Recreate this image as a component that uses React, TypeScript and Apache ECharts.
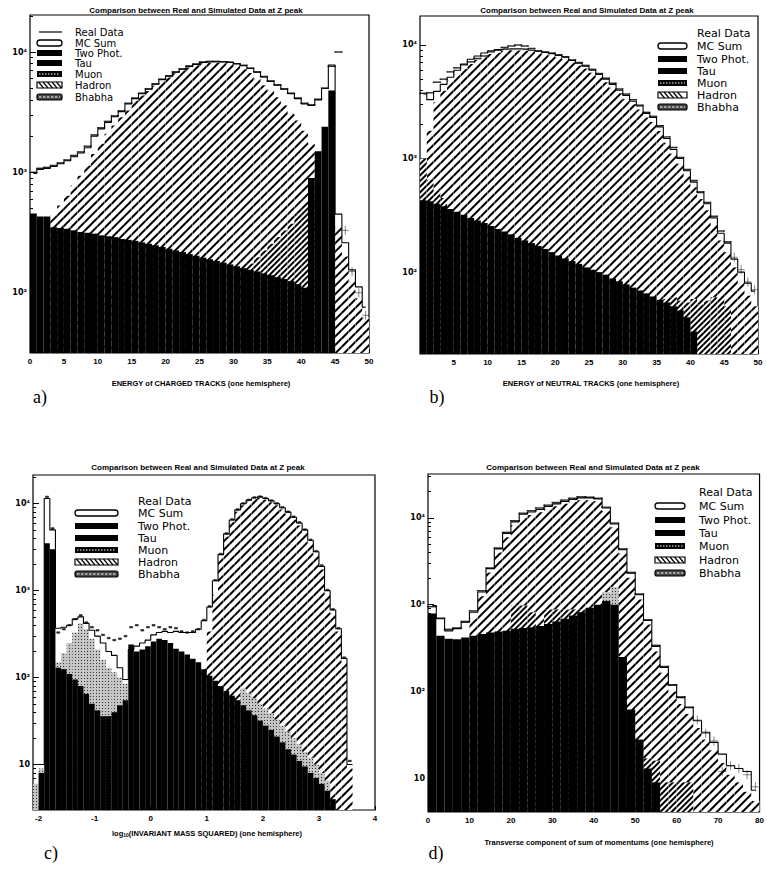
import React, { useEffect, useRef } from "react";
import * as echarts from "echarts";

const TITLE = "Comparison between Real and Simulated Data at Z peak";
const LEGEND_NAMES = ["Real Data", "MC Sum", "Two Phot.", "Tau", "Muon", "Hadron", "Bhabha"];

// ---------- panel a : energy of charged tracks (bins of 1, 0..50) ----------
const aXTicks = [0, 5, 10, 15, 20, 25, 30, 35, 40, 45, 50];
const aMcSum = [980, 1060, 1080, 1120, 1180, 1250, 1350, 1450, 1600, 2000, 2300, 2600, 2900, 3200, 3700, 4100, 4500, 4900, 5400, 5900, 6300, 6800, 7200, 7600, 7900, 8200, 8300, 8300, 8300, 8200, 8000, 7700, 7300, 6800, 6200, 5700, 5300, 4900, 4500, 4100, 3700, 3600, 4000, 5000, 7800, 450, 260, 155, 112, 76];
const aHadronTop = [null, null, null, 440, 530, 640, 780, 940, 1140, 1420, 1730, 2090, 2450, 2870, 3260, 3950, 4350, 4750, 5250, 5750, 6150, 6650, 7050, 7450, 7750, 8050, 8150, 8150, 8150, 8000, 7700, 7200, 6700, 6000, 5300, 4800, 4200, 3600, 3070, 2700, 2220, 1730, null, null, null, 350, 200, 125, 90, 62];
const aBhabhaTop = [null, null, null, null, null, null, null, null, null, null, null, null, null, null, null, null, null, null, null, null, null, null, null, null, null, null, null, null, null, null, null, null, 175, 197, 225, 255, 290, 330, 375, 455, 515, 590, null, null, null, null, null, null, null, null];
const aBlackTop = [455, 430, 430, 350, 345, 340, 330, 320, 315, 310, 300, 295, 290, 280, 275, 270, 262, 255, 248, 240, 232, 225, 218, 210, 203, 196, 190, 184, 178, 172, 166, 160, 155, 150, 145, 140, 135, 130, 125, 118, 110, 900, 1500, 2400, 4800, null, null, null, null, null];
const aData = [1000, 1080, 1100, 1140, 1200, 1270, 1380, 1480, 1650, 2050, 2350, 2650, 2950, 3250, 3750, 4150, 4550, 4950, 5450, 5950, 6350, 6850, 7250, 7650, 7950, 8250, 8350, 8350, 8300, 8200, 8000, 7750, 7350, 6850, 6250, 5750, 5350, 4950, 4550, 4150, 3750, 3650, 4050, 5000, 7600, 10000, 330, 150, 100, 65];

// ---------- panel b : energy of neutral tracks (bins of 1, 0..50) ----------
const bXTicks = [5, 10, 15, 20, 25, 30, 35, 40, 45, 50];
const bMcSum = [3700, 3300, 3900, 4500, 5200, 6000, 6800, 7500, 8000, 8500, 8900, 9100, 9200, 9250, 9250, 9200, 9000, 8800, 8600, 8400, 8100, 7800, 7300, 6900, 6500, 6000, 5500, 5000, 4500, 4000, 3600, 3200, 2900, 2500, 2300, 1900, 1500, 1200, 1000, 780, 620, 500, 400, 300, 220, 180, 130, 100, 80, 68];
const bHadronTop = [null, 1760, 3130, 3960, 4850, 5560, 6150, 6800, 7370, 7900, 8330, 8600, 8900, 9000, 8950, 8900, 8700, 8500, 8300, 8100, 7800, 7500, 7000, 6600, 6200, 5700, 5200, 4700, 4200, 3750, 3350, 3000, 2700, 2300, 2100, 1750, 1380, 1100, 900, 700, 560, 440, 350, 260, 190, 150, 110, 80, 62, 50];
const bBhabhaTop = [1000, 650, 520, 450, null, null, null, null, null, null, null, null, null, null, null, null, null, null, null, null, null, null, null, null, null, null, null, null, null, null, null, null, null, null, null, null, 58, 60, 56, 54, 58, 52, 56, 60, 58, 50, null, null, null, null];
const bBlackTop = [430, 420, 400, 380, 360, 340, 320, 300, 285, 270, 255, 240, 228, 215, 200, 190, 180, 170, 160, 150, 140, 132, 125, 118, 110, 105, 100, 95, 88, 83, 78, 73, 69, 65, 61, 57, 54, 50, 46, 40, 30, null, null, null, null, null, null, null, null, null];
const bData = [3750, 3800, 4700, 5000, 5800, 6300, 6700, 7100, 7600, 8000, 8700, 9000, 9500, 9800, 10000, 9800, 9300, 8900, 8700, 8500, 8200, 7900, 7400, 7000, 6600, 6100, 5600, 5100, 4600, 4100, 3700, 3300, 2950, 2550, 2350, 1950, 1550, 1250, 1020, 800, 640, 510, 410, 310, 230, 185, 135, 105, 82, 70];

// ---------- panel c : log10(invariant mass squared) (bins of 0.1, -2.1..4.0) ----------
const cXTicks = [-2, -1, 0, 1, 2, 3, 4];
const cMcSum = [null, 10, 11500, 5000, 370, 380, 400, 470, 500, 420, 350, 300, 250, 200, 180, 130, 95, 210, 230, 250, 270, 310, 330, 340, 330, 340, 330, 330, 330, 360, 450, 650, 1300, 2600, 4500, 6500, 8500, 10000, 11000, 11700, 12000, 11500, 10800, 10000, 9000, 8000, 7000, 6000, 5000, 3800, 2800, 1900, 1000, 600, 365, 166, 10, null, null, null, null];
const cHadronTop = [null, null, null, null, null, null, null, null, null, null, null, null, null, null, null, null, null, null, null, null, null, null, null, null, null, null, null, null, null, null, 130, 340, 900, 2400, 4200, 6200, 8100, 9600, 10600, 11300, 11600, 11100, 10400, 9600, 8600, 7600, 6600, 5600, 4700, 3550, 2600, 1750, 920, 550, 340, 150, 9, null, null, null, null];
const cMuonTop = [6, 9, null, null, 150, 190, 250, 330, 420, 360, 280, 210, 160, 130, 115, 100, 85, null, null, null, null, null, null, null, null, null, null, null, null, null, null, null, null, null, null, null, null, 75, 66, 58, 50, 44, 39, 33, 28, 24, 20, 17, 14, 12, 10, 8, 6.5, null, null, null, null, null, null, null, null];
const cBlackTop = [null, 8, 3500, 3000, 130, 125, 110, 95, 80, 65, 50, 42, 36, 36, 40, 48, 55, 240, 200, 210, 230, 260, 280, 270, 250, 215, 200, 185, 165, 150, 125, 105, 92, 80, 70, 62, 55, 48, 42, 37, 32, 28, 25, 21, 18, 15, 13, 11, 9.5, 8, 7, 6, 5, 4, null, null, null, null, null, null, null];
const cData = [null, null, 12000, 5200, 330, 360, 400, 470, 520, 430, 380, 350, 310, 285, 270, 280, 300, 380, 400, 350, 380, 400, 380, 360, 380, 370, 340, 330, 340, 360, 460, 660, 1320, 2650, 4550, 6600, 8600, 10100, 11100, 11800, 12100, 11600, 10900, 10100, 9100, 8100, 7100, 6100, 5050, 3850, 2850, 1950, 1020, 610, 370, 170, 11, null, null, null, null];

// ---------- panel d : transverse momentum sum (bins of 2, 0..80) ----------
const dXTicks = [0, 10, 20, 30, 40, 50, 60, 70, 80];
const dMcSum = [980, 690, 500, 530, 630, 820, 1400, 2600, 4400, 6600, 9000, 11000, 11700, 12500, 13500, 14500, 15500, 16300, 17000, 17000, 16500, 13000, 8500, 4300, 2300, 1300, 660, 330, 190, 118, 85, 65, 46, 34, 26, 19, 14, 13, 12, 7.3];
const dHadronTop = [null, null, null, null, null, 700, 1250, 2350, 4000, 6000, 8200, 10000, 10800, 11600, 12600, 13600, 14500, 15300, 16000, 16000, 15500, 12000, 7800, 3900, 2050, 1150, 590, 290, 165, 100, 72, 55, 38, 28, 21, 15, 11, 9, 7, 5.5];
const dBhabhaTop = [null, null, null, null, null, null, null, null, null, null, 980, 980, 820, null, 880, 880, 880, 880, 880, null, null, null, null, null, null, null, 17, 16, 9, 9, 9, 9, null, null, null, null, null, null, null, null];
const dMuonTop = [null, null, null, null, null, null, null, null, null, null, null, null, null, null, null, null, null, null, null, null, null, 1400, 1600, null, null, null, null, null, null, null, null, null, null, null, null, null, null, null, null, null];
const dBlackTop = [790, 440, 405, 400, 420, 440, 460, 480, 490, 500, 530, 540, 550, 570, 600, 640, 690, 750, 820, 920, 1000, 1100, 1000, 250, 62, 28, 13, 9, null, null, null, null, null, null, null, null, null, null, null, null];
const dData = [950, 700, 520, 540, 640, 850, 1450, 2650, 4500, 6800, 9300, 11300, 12100, 13000, 14000, 15000, 16000, 16800, 17500, 17300, 16800, 13300, 8700, 4400, 2350, 1330, 670, 340, 195, 120, 87, 66, 47, 33, 27, 12, 14, 13, 11, 8];

const Y_LABELS: Record<number, string> = { 1: "10", 2: "10²", 3: "10³", 4: "10⁴" };

const HATCH = { symbol: "rect", symbolSize: 1, dashArrayX: [1, 0], dashArrayY: [2, 3.5], rotation: -Math.PI / 4, color: "#000" };
const DENSE = { symbol: "rect", symbolSize: 1, dashArrayX: [1, 0], dashArrayY: [2, 1.4], rotation: -Math.PI / 4, color: "#000" };
const STIPPLE = { symbol: "rect", symbolSize: 1, dashArrayX: [1, 1.5], dashArrayY: [1, 1.5], rotation: 0, color: "#333" };
const CROSS = "path://M0,10L20,10M10,0L10,20";

type Panel = {
  grid: { left: number; top: number; width: number; height: number };
  xMin: number; xMax: number; xTicks: number[];
  yMin: number; yMax: number;
  mc: (number | null)[]; hadron: (number | null)[]; dense: (number | null)[] | null;
  muon: (number | null)[] | null; black: (number | null)[]; data: (number | null)[];
  crossBelow: number; dashW: number; dashH: number;
  title: [number, number]; xName: string; xNamePos: [number, number];
  letter: string; letterPos: [number, number];
  legend: { textX: number; rows: number[]; swX: number; swW: number; realLine: boolean; fontSize: number };
};

const PANELS: Panel[] = [
  {
    grid: { left: 30, top: 15, width: 339, height: 338 }, xMin: 0, xMax: 50, xTicks: aXTicks,
    yMin: 31.6, yMax: 20300, mc: aMcSum, hadron: aHadronTop, dense: aBhabhaTop, muon: null, black: aBlackTop, data: aData,
    crossBelow: 400, dashW: 6.8, dashH: 1.2, title: [196, 10], xName: "ENERGY of CHARGED TRACKS (one hemisphere)", xNamePos: [201, 383],
    letter: "a)", letterPos: [40, 397], legend: { textX: 75, rows: [32, 43, 53, 63, 74, 85, 97], swX: 37, swW: 25, realLine: true, fontSize: 10 },
  },
  {
    grid: { left: 420, top: 16, width: 338, height: 338 }, xMin: 0, xMax: 50, xTicks: bXTicks,
    yMin: 19, yMax: 18000, mc: bMcSum, hadron: bHadronTop, dense: bBhabhaTop, muon: null, black: bBlackTop, data: bData,
    crossBelow: 150, dashW: 6.8, dashH: 1.2, title: [587, 10], xName: "ENERGY of NEUTRAL TRACKS (one hemisphere)", xNamePos: [591, 383],
    letter: "b)", letterPos: [437, 397], legend: { textX: 697, rows: [33, 46, 59, 71, 83, 95, 107], swX: 658, swW: 29, realLine: false, fontSize: 11 },
  },
  {
    grid: { left: 33, top: 475, width: 342, height: 335 }, xMin: -2.1, xMax: 4.0, xTicks: cXTicks,
    yMin: 3, yMax: 21400, mc: cMcSum, hadron: cHadronTop, dense: null, muon: cMuonTop, black: cBlackTop, data: cData,
    crossBelow: 0, dashW: 3, dashH: 1.5, title: [198, 467], xName: "log{s|10}(INVARIANT MASS SQUARED) (one hemisphere)", xNamePos: [207, 833],
    letter: "c)", letterPos: [51, 853], legend: { textX: 138, rows: [501, 513, 526, 538, 550, 562, 574], swX: 75, swW: 43, realLine: false, fontSize: 11 },
  },
  {
    grid: { left: 428, top: 474, width: 337, height: 338 }, xMin: 0, xMax: 80, xTicks: dXTicks,
    yMin: 4.1, yMax: 32000, mc: dMcSum, hadron: dHadronTop, dense: dBhabhaTop, muon: dMuonTop, black: dBlackTop, data: dData,
    crossBelow: 60, dashW: 8.4, dashH: 1.2, title: [593, 467], xName: "Transverse component of sum of momentums (one hemisphere)", xNamePos: [599, 842],
    letter: "d)", letterPos: [436, 853], legend: { textX: 699, rows: [492, 506, 520, 533, 546, 560, 573], swX: 655, swW: 30, realLine: false, fontSize: 11 },
  },
];

function minorTicks(min: number, max: number): number[] {
  const out: number[] = [];
  for (let e = Math.floor(Math.log10(min)); e <= Math.ceil(Math.log10(max)); e++) {
    for (let m = 2; m <= 9; m++) {
      const v = m * Math.pow(10, e);
      if (v > min && v < max) out.push(v);
    }
  }
  return out;
}
function majorTicks(min: number, max: number): number[] {
  const out: number[] = [];
  for (let e = Math.ceil(Math.log10(min)); e <= Math.floor(Math.log10(max)); e++) out.push(Math.pow(10, e));
  return out;
}

const clean = (arr: (number | null)[]) => arr.map((v) => (v == null ? "-" : v));

function buildOption() {
  const grid: any[] = [];
  const xAxis: any[] = [];
  const yAxis: any[] = [];
  const series: any[] = [];
  const graphic: any[] = [];
  const FONT = "Liberation Sans";
  const noLine = { show: false, onZero: false };

  PANELS.forEach((p, i) => {
    grid.push({ ...p.grid, show: true, borderColor: "#000", borderWidth: 1.2, backgroundColor: "transparent" });
    const cats = p.mc.map((_, k) => String(k));
    xAxis.push({ type: "category", gridIndex: i, data: cats, show: false, position: "top", boundaryGap: true, axisLine: noLine });
    xAxis.push({
      type: "value", gridIndex: i, min: p.xMin, max: p.xMax, position: "bottom",
      axisLine: noLine, splitLine: { show: false },
      axisTick: { show: true, inside: true, length: 4, customValues: p.xTicks, lineStyle: { color: "#000" } },
      axisLabel: { customValues: p.xTicks, color: "#000", fontSize: 8, fontWeight: "bold", fontFamily: FONT, margin: 4 },
    });
    const maj = majorTicks(p.yMin, p.yMax);
    yAxis.push({
      type: "log", gridIndex: i, min: p.yMin, max: p.yMax, position: "left",
      axisLine: noLine, splitLine: { show: false }, minorTick: { show: false },
      axisTick: { show: true, inside: true, length: 6, customValues: maj, lineStyle: { color: "#000" } },
      axisLabel: {
        customValues: maj, color: "#000", fontSize: 8, fontWeight: "bold", fontFamily: "DejaVu Sans", margin: 3,
        formatter: (v: number) => Y_LABELS[Math.round(Math.log10(v))] || "",
      },
    });
    yAxis.push({
      type: "log", gridIndex: i, min: p.yMin, max: p.yMax, position: "left",
      axisLine: noLine, splitLine: { show: false }, axisLabel: { show: false },
      axisTick: { show: true, inside: true, length: 3, customValues: minorTicks(p.yMin, p.yMax), lineStyle: { color: "#000" } },
    });

    const ax = { xAxisIndex: 2 * i, yAxisIndex: 2 * i };
    const bar = (name: string, data: (number | null)[], itemStyle: any) => ({
      type: "bar", name, ...ax, data: clean(data), barWidth: "100%", barGap: "-100%", clip: true, silent: true, itemStyle,
    });
    series.push(bar("Hadron", p.hadron, { color: "#fff", decal: HATCH }));
    if (p.dense) series.push(bar("Bhabha", p.dense, { color: "#fff", decal: DENSE }));
    if (p.muon) series.push(bar("Muon", p.muon, { color: "#c4c4c4", decal: STIPPLE }));
    series.push(bar("Two Phot.", p.black, { color: "#000" }));
    series.push({
      type: "line", name: "MC Sum", ...ax, data: clean(p.mc), step: "middle", symbol: "none", clip: true, silent: true,
      connectNulls: false, lineStyle: { color: "#000", width: 1.1 }, z: 4,
    });
    const cb = p.crossBelow;
    series.push({
      type: "scatter", name: "Real Data", ...ax, clip: true, silent: true, z: 5,
      data: p.data.map((v, k) => (v == null ? [k, "-"] : [k, v])),
      symbol: (val: any) => (val[1] < cb ? CROSS : "rect"),
      symbolSize: (val: any) => (val[1] < cb ? [p.dashW, 9] : [p.dashW, p.dashH]),
      itemStyle: { color: "#000", borderColor: "#000", borderWidth: 0.6 },
    });

    // texts
    graphic.push({
      type: "text", x: p.title[0], y: p.title[1], silent: true,
      style: { text: TITLE, fill: "#000", fontSize: 8, fontWeight: "bold", fontFamily: FONT, align: "center", verticalAlign: "middle", textAlign: "center", textVerticalAlign: "middle" },
    });
    graphic.push({
      type: "text", x: p.xNamePos[0], y: p.xNamePos[1], silent: true,
      style: {
        text: p.xName, fill: "#000", fontSize: 7.5, fontWeight: "bold", fontFamily: FONT, align: "center", verticalAlign: "middle", textAlign: "center", textVerticalAlign: "middle",
        rich: { s: { fontSize: 5, fontWeight: "bold", fontFamily: FONT, fill: "#000", padding: [4, 0, 0, 0] } },
      },
    });
    graphic.push({
      type: "text", x: p.letterPos[0], y: p.letterPos[1], silent: true,
      style: { text: p.letter, fill: "#000", fontSize: 18, fontFamily: "Liberation Serif", align: "center", verticalAlign: "middle", textAlign: "center", textVerticalAlign: "middle" },
    });

    // legend
    const L = p.legend;
    LEGEND_NAMES.forEach((name, r) => {
      const y = L.rows[r];
      graphic.push({
        type: "text", x: L.textX, y, silent: true,
        style: { text: name, fill: "#000", fontSize: L.fontSize, lineHeight: 9, fontFamily: "DejaVu Sans", align: "left", verticalAlign: "middle", textAlign: "left", textVerticalAlign: "middle" },
      });
      const x0 = L.swX, w = L.swW, h = 6, y0 = y - 3;
      if (r === 0) {
        if (L.realLine) graphic.push({ type: "line", silent: true, shape: { x1: x0 + 2, y1: y, x2: x0 + w, y2: y }, style: { stroke: "#000", lineWidth: 1.2 } });
      } else if (r === 1) {
        graphic.push({ type: "rect", silent: true, shape: { x: x0, y: y0, width: w, height: h, r: 3 }, style: { fill: "#fff", stroke: "#000", lineWidth: 1.3 } });
      } else if (r === 2 || r === 3) {
        graphic.push({ type: "rect", silent: true, shape: { x: x0, y: y0, width: w, height: h }, style: { fill: "#000" } });
      } else if (r === 4) {
        graphic.push({ type: "rect", silent: true, shape: { x: x0, y: y0, width: w, height: h }, style: { fill: "#000" } });
        graphic.push({ type: "line", silent: true, shape: { x1: x0 + 2, y1: y, x2: x0 + w - 2, y2: y }, style: { stroke: "#fff", lineWidth: 1, lineDash: [1.5, 1.5] } });
      } else if (r === 5) {
        graphic.push({ type: "rect", silent: true, shape: { x: x0, y: y0, width: w, height: h }, style: { fill: "#fff", stroke: "#000", lineWidth: 1.2 } });
        for (let xs = x0 + 4; xs <= x0 + w - 3; xs += 4.5) {
          graphic.push({ type: "line", silent: true, shape: { x1: xs - 2.5, y1: y0, x2: xs + 2.5, y2: y0 + h }, style: { stroke: "#000", lineWidth: 1.2 } });
        }
      } else {
        graphic.push({ type: "rect", silent: true, shape: { x: x0, y: y0, width: w, height: h, r: 2 }, style: { fill: "#444", stroke: "#000", lineWidth: 1.2 } });
        graphic.push({ type: "line", silent: true, shape: { x1: x0 + 2, y1: y, x2: x0 + w - 2, y2: y }, style: { stroke: "#fff", lineWidth: 1.2, lineDash: [2.5, 1.5] } });
      }
    });
  });

  return { animation: false, backgroundColor: "#fff", grid, xAxis, yAxis, series, graphic };
}

export default function App() {
  const ref = useRef<HTMLDivElement>(null);
  useEffect(() => {
    if (!ref.current) return;
    const chart = echarts.init(ref.current, undefined, { renderer: "svg" });
    chart.setOption(buildOption() as any);
    return () => chart.dispose();
  }, []);
  return <div ref={ref} style={{ position: "absolute", left: 0, top: 0, width: 767, height: 870 }} />;
}
